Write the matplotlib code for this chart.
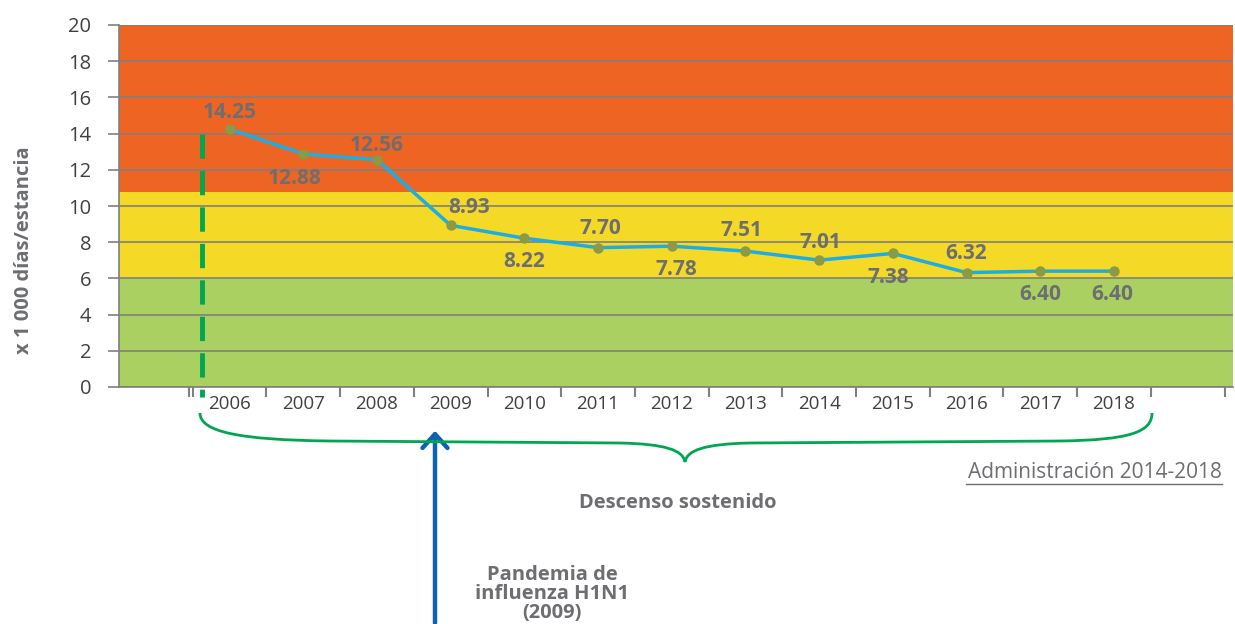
import numpy as np
import matplotlib
matplotlib.use("Agg")
import matplotlib.pyplot as plt
from matplotlib.path import Path
from matplotlib.patches import PathPatch

plt.rcParams['font.family'] = ['Open Sans', 'DejaVu Sans']

# data
years = ["2006", "2007", "2008", "2009", "2010", "2011", "2012",
         "2013", "2014", "2015", "2016", "2017", "2018"]
values = [14.25, 12.88, 12.56, 8.93, 8.22, 7.70, 7.78,
          7.51, 7.01, 7.38, 6.32, 6.40, 6.40]
bands = [(0, 6), (6, 10.8), (10.8, 20)]
band_colors = ["#abd062", "#f4da27", "#ee6423"]

# label offsets (points) relative to each marker
label_dx = [0, -6, 0, 13, 0, 2, 3, -3, 1, -3, 0, 0, -1]
label_dy = [12, -18, 10, 13, -17, 14, -17, 15, 13, -17, 14, -17, -17]

GRAY = "#6d6e71"
W, H = 1235, 624

fig = plt.figure(figsize=(W / 100, H / 100), dpi=100)
ax = fig.add_axes([119 / W, 1 - 387 / H, (1233 - 119) / W, (387 - 25) / H])

x = np.arange(1, len(years) + 1)
ax.set_xlim(-0.5, -0.5 + (1233 - 119) / 73.7)
ax.set_ylim(0, 20)

for (lo, hi), c in zip(bands, band_colors):
    ax.axhspan(lo, hi, color=c, zorder=0, lw=0)

ax.set_yticks(np.arange(0, 21, 2))
ax.yaxis.grid(True, color="#7f7f7f", lw=1.2, zorder=1)
ax.tick_params(axis="y", length=8, width=1.2, color="#7f7f7f", pad=12,
               labelsize=14.5, labelcolor="#404040")

# x ticks: marks at slot boundaries, labels at slot centers
ax.set_xticks(list(np.arange(0.5, 15, 1)) + [0.45])
ax.set_xticklabels([])
ax.set_xticks(x, minor=True)
ax.set_xticklabels(years, minor=True)
ax.tick_params(axis="x", which="major", length=7, width=1.5, color="#7f7f7f")
ax.tick_params(axis="x", which="minor", length=0, pad=6,
               labelsize=13.5, labelcolor="#404040")

for s in ["top", "right"]:
    ax.spines[s].set_visible(False)
for s in ["left", "bottom"]:
    ax.spines[s].set_color("#7f7f7f")
    ax.spines[s].set_linewidth(1.2)
    ax.spines[s].set_zorder(2)

ax.set_ylabel("x 1 000 días/estancia", fontsize=14.5, fontweight="bold",
              color=GRAY)
ax.yaxis.set_label_coords(-0.076, 0.378)

ax.plot(x, values, color="#1aaee4", lw=2.5, zorder=3)
ax.plot(x, values, "o", color="#8a9a46", ms=6.5, zorder=4)

for xi, v, dx, dy in zip(x, values, label_dx, label_dy):
    ax.annotate(f"{v:.2f}", (xi, v), xytext=(dx, dy), textcoords="offset points",
                ha="center", va="center", fontsize=15, fontweight="bold",
                color=GRAY, zorder=5)

# green dashed marker line
ax.plot([0.63, 0.63], [14.0, -0.55], color="#00a651", lw=3.5,
        dashes=(5, 2.5), clip_on=False, zorder=5)


def px(xp, yp):
    return (xp / W, 1 - yp / H)


# brace
verts = [px(200, 413), px(200, 432), px(240, 440), px(330, 441),
         px(620, 443),
         px(665, 444), px(683, 450), px(685, 462),
         px(687, 450), px(705, 444), px(750, 443),
         px(1060, 441),
         px(1130, 440), px(1152, 432), px(1152, 413)]
codes = [Path.MOVETO, Path.CURVE4, Path.CURVE4, Path.CURVE4,
         Path.LINETO,
         Path.CURVE4, Path.CURVE4, Path.CURVE4,
         Path.CURVE4, Path.CURVE4, Path.CURVE4,
         Path.LINETO,
         Path.CURVE4, Path.CURVE4, Path.CURVE4]
fig.patches.append(PathPatch(Path(verts, codes), transform=fig.transFigure,
                             fill=False, edgecolor="#00a651", lw=2))

# blue arrow
fig.add_artist(matplotlib.patches.FancyArrowPatch(
    px(435, 626), px(435, 428), transform=fig.transFigure,
    arrowstyle="->,head_length=0.5,head_width=0.45", color="#0d62b8",
    lw=3.2, mutation_scale=20))

fig.text(*px(678, 503), "Descenso sostenido", ha="center", va="center",
         fontsize=14.5, fontweight="bold", color=GRAY)
fig.text(*px(552, 594), "Pandemia de\ninfluenza H1N1\n(2009)", ha="center",
         va="center", fontsize=14.5, fontweight="bold", color=GRAY,
         linespacing=0.95)
fig.text(*px(1222, 473), "Administración 2014-2018", ha="right",
         va="center", fontsize=15, color=GRAY)
fig.add_artist(matplotlib.lines.Line2D([966 / W, 1222 / W], [1 - 484 / H] * 2,
                                       transform=fig.transFigure,
                                       color=GRAY, lw=1))

fig.savefig("out.png", dpi=100)
